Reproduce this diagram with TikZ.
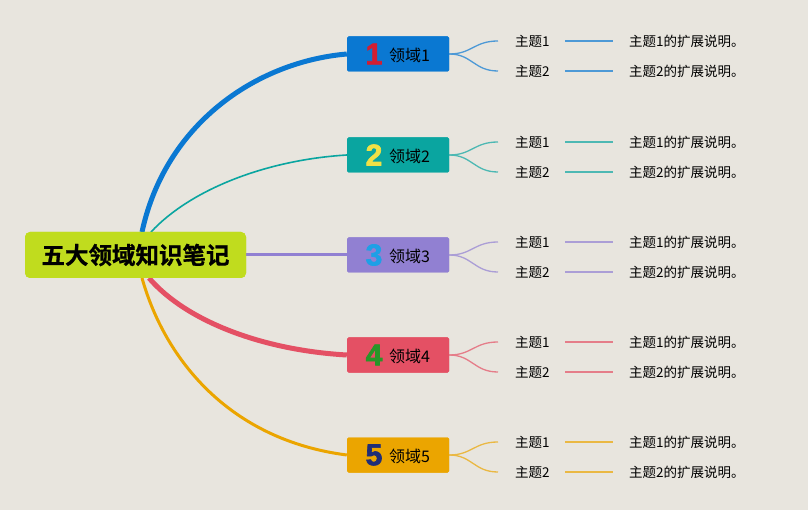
\documentclass[tikz,border=0pt]{standalone}
\usepackage{fontspec}
\setmainfont{Liberation Sans}
\newfontfamily\cjk{Noto Sans CJK SC}
\newfontfamily\cjkb{Noto Sans CJK SC}[BoldFont={* Bold}, BoldFeatures={FakeBold=0.8}]
\newfontfamily\numfont{Liberation Sans}[BoldFeatures={FakeBold=2.2}]
\definecolor{bg}{RGB}{232,229,222}
\definecolor{cmain}{RGB}{192,220,30}
\definecolor{c1}{RGB}{10,120,210}
\definecolor{c2}{RGB}{10,165,160}
\definecolor{c3}{RGB}{145,128,210}
\definecolor{c4}{RGB}{228,80,100}
\definecolor{c5}{RGB}{235,165,0}
\definecolor{n1}{RGB}{210,30,50}
\definecolor{n2}{RGB}{240,225,70}
\definecolor{n3}{RGB}{30,160,230}
\definecolor{n4}{RGB}{40,150,40}
\definecolor{n5}{RGB}{30,45,120}
\tikzset{
  mainbox/.style={fill=cmain, rounded corners=5pt, minimum width=221pt, minimum height=46pt, inner sep=0pt, font=\cjkb\fontsize{23.5}{26}\selectfont\bfseries},
  dombox/.style={fill=#1, rounded corners=1.5pt, minimum width=102pt, minimum height=35pt, inner sep=0pt},
  numtxt/.style={font=\numfont\fontsize{30}{30}\selectfont\bfseries, text=#1, inner sep=0pt},
  domtxt/.style={font=\cjk\fontsize{16}{18}\selectfont, inner sep=0pt, anchor=west},
  subtxt/.style={font=\cjk\fontsize{13.5}{15}\selectfont, inner sep=0pt, anchor=west},
  subline/.style={draw=#1!70!bg, line width=1.3pt},
}
\begin{document}
\begin{tikzpicture}[x=1pt,y=-1pt]
\fill[bg] (0,0) rectangle (808,510);
\useasboundingbox (0,0) rectangle (808,510);

\node[mainbox] (main) at (135.5,255) {五大领域知识笔记};

\coordinate (m1) at (142,232);
\coordinate (m2) at (151,232);
\coordinate (m4) at (149,278);
\coordinate (m5) at (142,278);

\foreach \i/\y in {1/54,2/155,3/255,4/355,5/455}{
  \node[dombox=c\i] (d\i) at (398,\y) {};
  \node[numtxt=n\i] (n\i) at (374,\y) {\i};
  \node[domtxt] (t\i) at (389,\y+1) {领域\i};
  \node[subtxt] (s\i a) at (515,\y-13) {主题1};
  \node[subtxt] (s\i b) at (515,\y+17) {主题2};
  \node[subtxt] (e\i a) at (629,\y-13) {主题1的扩展说明。};
  \node[subtxt] (e\i b) at (629,\y+17) {主题2的扩展说明。};
  \coordinate (la\i) at (565,\y-13);
  \coordinate (lb\i) at (613,\y-13);
  \coordinate (lc\i) at (565,\y+17);
  \coordinate (ld\i) at (613,\y+17);
  \coordinate (ba\i) at (498,\y-13);
  \coordinate (bb\i) at (498,\y+17);
  \draw[subline=c\i] (d\i.east) .. controls (472,\y) and (474,\y-13) .. (ba\i);
  \draw[subline=c\i] (d\i.east) .. controls (472,\y) and (474,\y+17) .. (bb\i);
  \draw[subline=c\i] (la\i) -- (lb\i);
  \draw[subline=c\i] (lc\i) -- (ld\i);
}

\draw[c1, line width=5pt] (m1) .. controls (165,125) and (255,62) .. (d1.west);
\draw[c2, line width=1.6pt] (m2) .. controls (190,190) and (265,160) .. (d2.west);
\draw[c3, line width=3pt] (main.east) -- (d3.west);
\draw[c4, line width=5pt] (m4) .. controls (185,320) and (260,350) .. (d4.west);
\draw[c5, line width=3pt] (m5) .. controls (165,360) and (230,440) .. (d5.west);

% redraw boxes on top of connector ends
\node[mainbox] at (135.5,255) {五大领域知识笔记};
\foreach \i/\y in {1/54,2/155,3/255,4/355,5/455}{
  \node[dombox=c\i] at (398,\y) {};
  \node[numtxt=n\i] at (374,\y) {\i};
  \node[domtxt] at (389,\y+1) {领域\i};
}
\end{tikzpicture}
\end{document}
